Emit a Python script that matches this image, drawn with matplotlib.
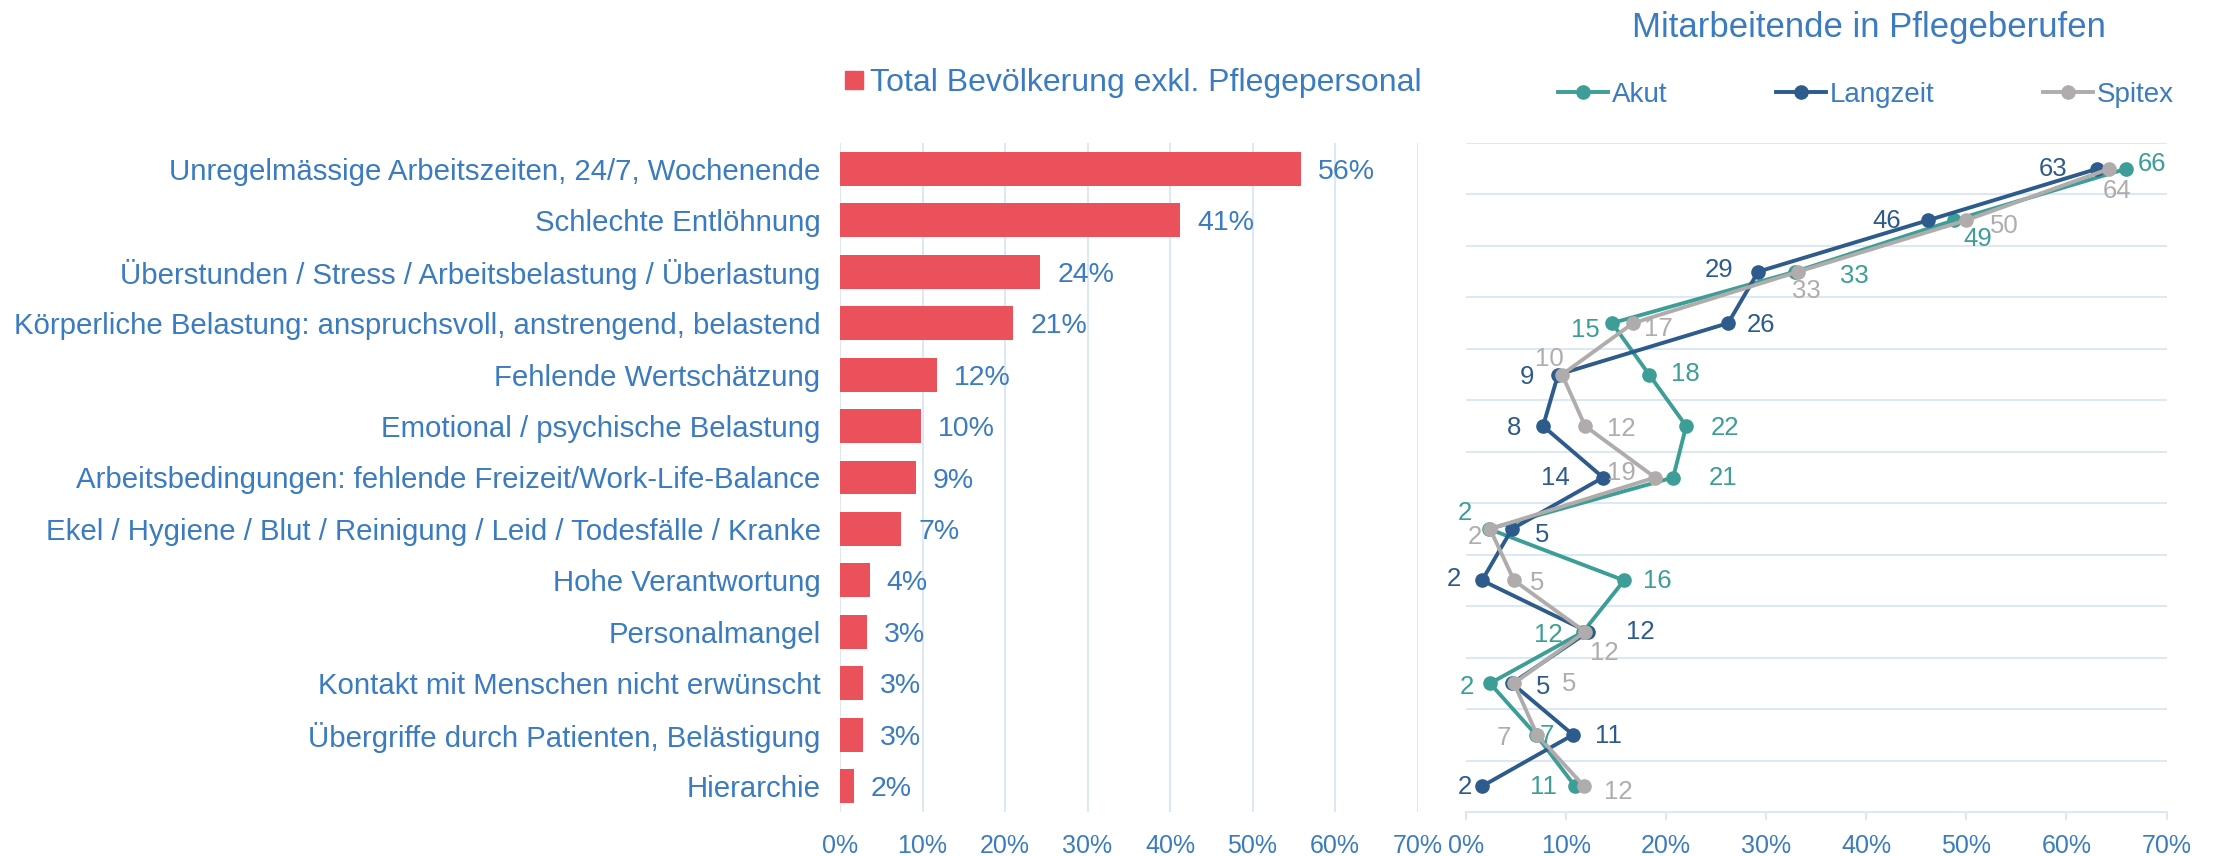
import numpy as np
import matplotlib.pyplot as plt
from matplotlib.lines import Line2D

plt.rcParams['font.family'] = ['Liberation Sans', 'DejaVu Sans']

categories = [
    'Unregelmässige Arbeitszeiten, 24/7, Wochenende',
    'Schlechte Entlöhnung',
    'Überstunden / Stress / Arbeitsbelastung / Überlastung',
    'Körperliche Belastung: anspruchsvoll, anstrengend, belastend',
    'Fehlende Wertschätzung',
    'Emotional / psychische Belastung',
    'Arbeitsbedingungen: fehlende Freizeit/Work-Life-Balance',
    'Ekel / Hygiene / Blut / Reinigung / Leid / Todesfälle / Kranke',
    'Hohe Verantwortung',
    'Personalmangel',
    'Kontakt mit Menschen nicht erwünscht',
    'Übergriffe durch Patienten, Belästigung',
    'Hierarchie',
]
total = [55.9, 41.2, 24.3, 21.0, 11.8, 9.8, 9.2, 7.4, 3.6, 3.3, 2.8, 2.8, 1.7]

akut = [66.0, 48.8, 32.9, 14.6, 18.3, 22.0, 20.7, 2.3, 15.8, 11.7, 2.4, 7.0, 10.9]
langzeit = [63.1, 46.2, 29.2, 26.2, 9.2, 7.7, 13.7, 4.6, 1.6, 12.2, 4.6, 10.7, 1.6]
spitex = [64.3, 50.0, 33.2, 16.7, 9.6, 11.9, 18.9, 2.4, 4.8, 11.9, 4.8, 7.1, 11.8]

x_ticks = [0, 10, 20, 30, 40, 50, 60, 70]

# Farben
BLUE_TXT = '#3B7BBF'
RED = '#EA515B'
TEAL = '#3C9E96'
DARK = '#2C5B8C'
GREY = '#B0ACAC'
GRID = '#DDE8F4'

# Label-Versatz (Pixel) fuer die Punktbeschriftungen
off_akut = [(26, 7), (23, -16), (59, -2), (-27, -4), (36, 3), (39, 1), (50, 2),
            (-24, 18), (33, 2), (-35, -1), (-23, -1), (11, 1), (-32, 2)]
off_langzeit = [(-44, 2), (-42, 2), (-39, 4), (33, 1), (-31, 0), (-29, 1), (-48, 2),
                (30, -4), (-28, 4), (52, 2), (31, -1), (35, 1), (-17, 2)]
off_spitex = [(8, -20), (38, -3), (8, -17), (25, -3), (-13, 18), (36, 0), (-34, 7),
              (-15, -6), (23, 0), (19, -19), (55, 2), (-33, -1), (34, -3)]

W, H = 2219, 856
fig = plt.figure(figsize=(W / 100, H / 100), dpi=100)
y0 = 1 - 812 / H
hh = (812 - 143) / H
ax1 = fig.add_axes([840 / W, y0, (1417.5 - 840) / W, hh])
ax2 = fig.add_axes([1466 / W, y0, (2166.5 - 1466) / W, hh])

y = np.arange(len(categories))

# linker Teil: Balken
ax1.barh(y, total, height=0.66, color=RED, zorder=3)
for yi, v in zip(y, total):
    ax1.annotate(f'{v:.0f}%', (v, yi), xytext=(17, 0), textcoords='offset pixels',
                 ha='left', va='center_baseline', color=BLUE_TXT, fontsize=20.5)
ax1.set_xlim(0, 70)
ax1.set_ylim(len(categories) - 0.5, -0.5)
ax1.set_xticks(x_ticks)
ax1.set_xticklabels([f'{t}%' for t in x_ticks])
ax1.set_yticks(y)
ax1.set_yticklabels(categories)
ax1.grid(axis='x', color=GRID, linewidth=1.5, zorder=0)
ax1.set_axisbelow(True)
for s in ax1.spines.values():
    s.set_visible(False)
ax1.tick_params(axis='y', length=0, pad=14, labelsize=21.2, labelcolor=BLUE_TXT)
ax1.tick_params(axis='x', length=0, pad=15.5, labelsize=18, labelcolor=BLUE_TXT)

# rechter Teil: Linien
series = [('Akut', akut, TEAL, off_akut),
          ('Langzeit', langzeit, DARK, off_langzeit),
          ('Spitex', spitex, GREY, off_spitex)]
for name, vals, col, offs in series:
    ax2.plot(vals, y, '-o', color=col, linewidth=2.8, markersize=9.5, zorder=3)
    for v, yi, (dx, dy) in zip(vals, y, offs):
        ax2.annotate(f'{v:.0f}', (v, yi), xytext=(dx, dy), textcoords='offset pixels',
                     ha='center', va='center_baseline', color=col, fontsize=18.5,
                     zorder=4)
ax2.set_xlim(0, 70)
ax2.set_ylim(len(categories) - 0.5, -0.5)
ax2.set_xticks(x_ticks)
ax2.set_xticklabels([f'{t}%' for t in x_ticks])
ax2.set_yticks([])
ax2.set_yticks(np.arange(-0.5, len(categories) - 1, 1), minor=True)
ax2.grid(axis='y', which='minor', color=GRID, linewidth=1.5, zorder=0)
ax2.tick_params(axis='y', which='both', length=0)
for k in ['top', 'left', 'right']:
    ax2.spines[k].set_visible(False)
ax2.spines['bottom'].set_color(GRID)
ax2.spines['bottom'].set_linewidth(1.5)
ax2.tick_params(axis='x', length=6, width=1.5, color=GRID, pad=9.5,
                labelsize=18, labelcolor=BLUE_TXT)

# Legenden
h_total = [Line2D([], [], linestyle='none', marker='s', markersize=13, color=RED)]
fig.legend(h_total, ['Total Bevölkerung exkl. Pflegepersonal'], loc='center left',
           bbox_to_anchor=(812 / W, 1 - 83 / H), frameon=False, fontsize=23,
           labelcolor=BLUE_TXT, handletextpad=0.1, handlelength=0.8)

h_lines = [Line2D([], [], color=c, marker='o', linewidth=2.8, markersize=9.5)
           for _, _, c, _ in series]
fig.legend(h_lines, [s[0] for s in series], loc='center', ncol=3,
           bbox_to_anchor=(1866 / W, 1 - 95 / H), frameon=False, fontsize=20,
           labelcolor=BLUE_TXT, handlelength=1.8, handletextpad=0.15,
           columnspacing=3.9)

fig.text(1869 / W, 1 - 27 / H, 'Mitarbeitende in Pflegeberufen', ha='center',
         va='center', fontsize=25, color=BLUE_TXT)

fig.savefig('out.png', dpi=100)
